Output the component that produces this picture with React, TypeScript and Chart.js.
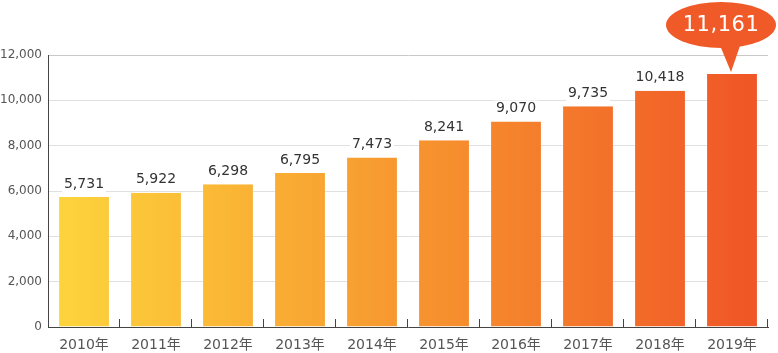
import React, { useEffect, useRef } from "react";
import { Chart, registerables } from "chart.js";

Chart.register(...registerables);

const categories = ["2010年", "2011年", "2012年", "2013年", "2014年", "2015年", "2016年", "2017年", "2018年", "2019年"];
const values = [5731, 5922, 6298, 6795, 7473, 8241, 9070, 9735, 10418, 11161];
const yTicks = [0, 2000, 4000, 6000, 8000, 10000, 12000];

const FONT = '"DejaVu Sans", "Noto Sans CJK JP", sans-serif';

const fmt = (v: number) => v.toLocaleString("en-US");

const overlayPlugin = {
  id: "overlay",
  afterDatasetsDraw(chart: any) {
    const ctx = chart.ctx;
    const xs = chart.scales.x;
    const area = chart.chartArea;
    const meta = chart.getDatasetMeta(0);
    const n = categories.length;
    const cw = xs.width / n;
    ctx.save();
    // upward tick marks at category boundaries
    ctx.strokeStyle = "#444";
    ctx.lineWidth = 1;
    for (let i = 0; i < n; i++) {
      const x = Math.round(xs.getPixelForValue(i) + cw / 2) - 0.5;
      ctx.beginPath();
      ctx.moveTo(x, area.bottom - 8);
      ctx.lineTo(x, area.bottom);
      ctx.stroke();
    }
    // value labels
    ctx.font = "14px " + FONT;
    ctx.textAlign = "center";
    ctx.textBaseline = "middle";
    for (let i = 0; i < n - 1; i++) {
      const el = meta.data[i];
      const t = fmt(values[i]);
      const w = ctx.measureText(t).width;
      const cy = el.y - 13;
      ctx.fillStyle = "#fff";
      ctx.fillRect(el.x - w / 2 - 2, cy - 8, w + 4, 16);
      ctx.fillStyle = "#333";
      ctx.fillText(t, el.x, cy);
    }
    // callout for last bar
    const last = meta.data[n - 1];
    const color = "#F05A28";
    const cx = last.x - 11;
    const cy = area.top - 30;
    ctx.fillStyle = color;
    ctx.beginPath();
    ctx.ellipse(cx, cy, 55, 23, 0, 0, Math.PI * 2);
    ctx.fill();
    ctx.beginPath();
    ctx.moveTo(cx - 2, cy + 18);
    ctx.lineTo(last.x - 1, last.y - 2);
    ctx.lineTo(cx + 20, cy + 18);
    ctx.closePath();
    ctx.fill();
    ctx.fillStyle = "#fff";
    ctx.font = "21px " + FONT;
    (ctx as any).letterSpacing = "0.5px";
    ctx.fillText(fmt(values[n - 1]), cx, cy + 1);
    ctx.restore();
  },
};

export default function App() {
  const ref = useRef<HTMLCanvasElement>(null);
  useEffect(() => {
    const canvas = ref.current!;
    const chart = new Chart(canvas, {
      type: "bar",
      data: {
        labels: categories,
        datasets: [
          {
            data: values,
            backgroundColor: (c: any) => {
              const area = c.chart.chartArea;
              if (!area) return "#F69431";
              const g = c.chart.ctx.createLinearGradient(area.left + 10, 0, area.right - 10, 0);
              g.addColorStop(0, "#FDD43C");
              g.addColorStop(0.5, "#F7962F");
              g.addColorStop(1, "#F05526");
              return g;
            },
            borderColor: "rgba(255,255,255,0.35)",
            borderWidth: { left: 1, right: 1, top: 0, bottom: 0 } as any,
            borderSkipped: false,
            barPercentage: 0.72,
            categoryPercentage: 1,
          },
        ],
      },
      options: {
        animation: false,
        responsive: true,
        maintainAspectRatio: false,
        layout: { padding: { top: 55, right: 10, left: 0, bottom: 0 } },
        plugins: { legend: { display: false }, tooltip: { enabled: false } },
        scales: {
          x: {
            grid: { display: false, drawTicks: false },
            border: { display: true, color: "#444", width: 1 },
            ticks: { color: "#555", font: { size: 14, family: FONT }, padding: 10 },
            afterFit: (s: any) => {
              s.height = 26;
            },
          },
          y: {
            min: 0,
            max: 12000,
            afterBuildTicks: (s: any) => {
              s.ticks = yTicks.map((v) => ({ value: v }));
            },
            grid: {
              color: (c: any) => (c.tick && c.tick.value === 12000 ? "#c8c8c8" : "#e0e0e0"),
              drawTicks: false,
              lineWidth: 1,
            },
            border: { display: true, color: "#444", width: 1 },
            ticks: {
              color: "#555",
              font: { size: 12, family: FONT },
              padding: 6,
              callback: (v: any) => fmt(Number(v)),
            },
            afterFit: (s: any) => {
              s.width = 48;
            },
          },
        },
      },
      plugins: [overlayPlugin],
    });
    return () => chart.destroy();
  }, []);
  return (
    <div style={{ position: "absolute", left: 0, top: 0, width: 778, height: 353, background: "#fff" }}>
      <canvas ref={ref} />
    </div>
  );
}
